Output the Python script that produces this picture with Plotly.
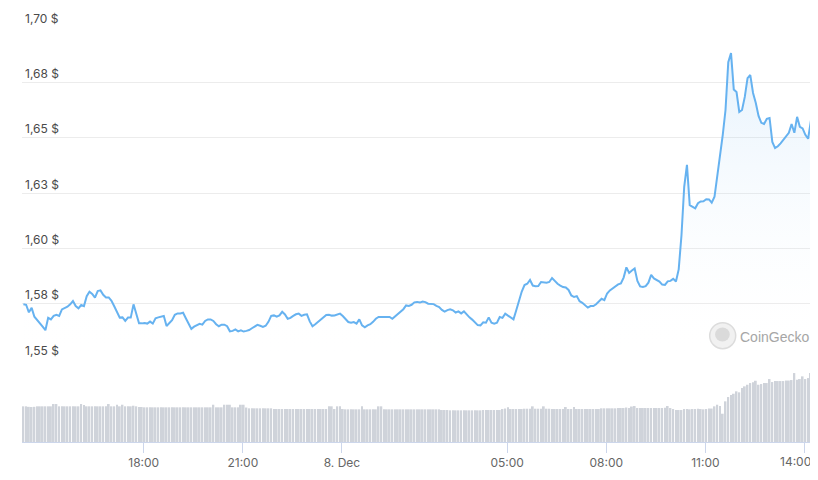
import pandas as pd
import plotly.graph_objects as go

# Prezzo in USD, un punto ogni 5 minuti (7-8 dicembre)
price = [
    1.5747, 1.5745, 1.5711, 1.5731, 1.5691, 1.5677, 1.5661, 1.5646, 1.5630, 1.5686,
    1.5679, 1.5695, 1.5700, 1.5695, 1.5724, 1.5729, 1.5736, 1.5747, 1.5762, 1.5739,
    1.5729, 1.5744, 1.5739, 1.5784, 1.5804, 1.5794, 1.5777, 1.5807, 1.5810, 1.5790,
    1.5778, 1.5778, 1.5763, 1.5738, 1.5715, 1.5687, 1.5688, 1.5672, 1.5687, 1.5687,
    1.5747, 1.5700, 1.5661, 1.5661, 1.5663, 1.5660, 1.5669, 1.5660, 1.5684, 1.5688,
    1.5691, 1.5694, 1.5649, 1.5664, 1.5675, 1.5700, 1.5706, 1.5706, 1.5709, 1.5684,
    1.5661, 1.5636, 1.5646, 1.5652, 1.5659, 1.5655, 1.5672, 1.5679, 1.5679, 1.5672,
    1.5657, 1.5648, 1.5655, 1.5655, 1.5648, 1.5625, 1.5627, 1.5634, 1.5625, 1.5630,
    1.5624, 1.5627, 1.5631, 1.5639, 1.5648, 1.5654, 1.5650, 1.5645, 1.5650, 1.5668,
    1.5695, 1.5697, 1.5691, 1.5697, 1.5713, 1.5701, 1.5682, 1.5686, 1.5695, 1.5702,
    1.5705, 1.5695, 1.5700, 1.5702, 1.5670, 1.5648, 1.5657, 1.5668, 1.5677, 1.5686,
    1.5699, 1.5700, 1.5696, 1.5697, 1.5702, 1.5705, 1.5694, 1.5679, 1.5667, 1.5664,
    1.5667, 1.5660, 1.5679, 1.5652, 1.5643, 1.5652, 1.5657, 1.5668, 1.5682, 1.5690,
    1.5690, 1.5690, 1.5690, 1.5690, 1.5682, 1.5693, 1.5704, 1.5715, 1.5725, 1.5742,
    1.5740, 1.5745, 1.5756, 1.5758, 1.5755, 1.5760, 1.5757, 1.5750, 1.5748, 1.5748,
    1.5740, 1.5735, 1.5722, 1.5714, 1.5721, 1.5725, 1.5720, 1.5710, 1.5715, 1.5706,
    1.5715, 1.5700, 1.5688, 1.5678, 1.5666, 1.5653, 1.5652, 1.5666, 1.5664, 1.5688,
    1.5664, 1.5660, 1.5664, 1.5690, 1.5686, 1.5705, 1.5696, 1.5687, 1.5679, 1.5720,
    1.5767, 1.5805, 1.5834, 1.5840, 1.5857, 1.5832, 1.5829, 1.5830, 1.5848, 1.5845,
    1.5845, 1.5848, 1.5866, 1.5853, 1.5840, 1.5832, 1.5825, 1.5823, 1.5812, 1.5787,
    1.5780, 1.5784, 1.5761, 1.5754, 1.5741, 1.5732, 1.5739, 1.5739, 1.5747, 1.5761,
    1.5772, 1.5766, 1.5796, 1.5810, 1.5819, 1.5832, 1.5837, 1.5841, 1.5868, 1.5914,
    1.5889, 1.5900, 1.5909, 1.5853, 1.5828, 1.5825, 1.5829, 1.5845, 1.5880, 1.5864,
    1.5855, 1.5850, 1.5836, 1.5835, 1.5851, 1.5853, 1.5862, 1.5850, 1.5905, 1.6058,
    1.6278, 1.6377, 1.6195, 1.6189, 1.6181, 1.6204, 1.6212, 1.6213, 1.6222, 1.6221,
    1.6206, 1.6233, 1.6323, 1.6423, 1.6513, 1.6625, 1.6841, 1.6882, 1.6718, 1.6706,
    1.6616, 1.6625, 1.6684, 1.6769, 1.6783, 1.6702, 1.6657, 1.6598, 1.6567, 1.6562,
    1.6585, 1.6589, 1.6481, 1.6453, 1.6461, 1.6474, 1.6492, 1.6506, 1.6522, 1.6562,
    1.6522, 1.6594, 1.6549, 1.6542, 1.6513, 1.6495, 1.6576, 1.6569,
]

# Volume (valori relativi, stessa frequenza del prezzo)
volume = [
    35.7, 35.7, 35.2, 35.0, 35.2, 35.7, 35.7, 35.7, 35.7, 35.7,
    35.7, 38.0, 38.0, 35.7, 35.7, 35.7, 35.7, 35.7, 35.7, 35.7,
    35.7, 38.0, 37.0, 35.7, 35.7, 35.7, 35.7, 35.7, 35.7, 35.7,
    35.7, 38.0, 35.7, 35.7, 37.3, 35.7, 37.3, 35.7, 35.7, 35.7,
    36.3, 35.7, 35.0, 35.0, 34.7, 34.7, 34.7, 34.7, 34.7, 34.7,
    34.7, 34.7, 34.7, 34.7, 34.7, 34.7, 34.7, 34.7, 34.7, 34.7,
    34.7, 34.7, 34.7, 34.7, 34.7, 34.7, 34.7, 34.7, 34.7, 37.3,
    34.7, 34.7, 34.7, 37.3, 37.3, 37.3, 34.7, 34.7, 34.7, 37.3,
    37.3, 34.5, 33.7, 33.7, 33.7, 33.7, 33.7, 33.7, 33.7, 33.7,
    33.7, 33.0, 33.0, 33.0, 33.0, 33.0, 33.0, 33.0, 33.0, 33.0,
    33.0, 33.0, 33.0, 33.0, 33.0, 33.0, 33.0, 33.0, 33.0, 33.0,
    33.0, 35.7, 35.7, 33.0, 35.7, 35.7, 33.0, 32.7, 32.7, 32.7,
    32.7, 32.7, 32.7, 35.7, 32.7, 32.7, 32.7, 32.7, 32.7, 35.7,
    35.7, 32.7, 32.7, 32.7, 32.7, 32.7, 32.7, 32.7, 32.7, 32.7,
    32.7, 32.7, 32.7, 32.7, 32.7, 32.7, 32.7, 32.7, 32.7, 32.7,
    32.7, 32.7, 32.0, 32.0, 32.0, 31.7, 31.7, 31.7, 31.7, 31.7,
    31.7, 31.7, 31.7, 31.7, 31.7, 31.7, 31.7, 32.0, 32.0, 32.0,
    32.0, 32.0, 32.0, 32.0, 33.0, 33.5, 34.7, 33.0, 33.0, 33.0,
    33.0, 33.0, 33.3, 33.3, 33.3, 35.7, 33.3, 33.3, 33.3, 35.7,
    33.3, 33.3, 33.0, 33.0, 33.0, 33.0, 33.0, 35.0, 33.0, 33.0,
    35.0, 33.0, 33.0, 33.0, 33.0, 33.0, 33.0, 33.0, 33.0, 33.0,
    33.7, 33.7, 33.7, 33.7, 33.7, 33.7, 34.0, 34.0, 34.0, 34.5,
    34.0, 35.5, 36.0, 34.0, 34.0, 34.0, 34.0, 34.0, 34.0, 34.0,
    34.0, 34.0, 34.0, 34.3, 36.0, 34.0, 33.0, 32.0, 32.0, 32.0,
    33.0, 33.0, 32.7, 33.0, 33.0, 33.3, 33.0, 32.7, 33.0, 33.5,
    33.5, 35.7, 37.3, 36.0, 28.3, 40.7, 45.0, 47.0, 48.3, 50.7,
    49.7, 54.0, 55.7, 57.3, 59.0, 59.7, 61.3, 57.3, 58.0, 59.0,
    59.0, 63.0, 60.0, 61.0, 61.0, 61.0, 61.0, 61.5, 61.5, 62.0,
    69.0, 62.3, 63.0, 65.7, 63.0, 64.0, 69.0, 66.0,
]

tick_times = ["2022-12-07 18:00", "2022-12-07 21:00", "2022-12-08 00:00",
              "2022-12-08 05:00", "2022-12-08 08:00", "2022-12-08 11:00",
              "2022-12-08 14:00"]
tick_labels = ["18:00", "21:00", "8. Dec", "05:00", "08:00", "11:00", "14:00"]

price_ticks = [1.55, 1.575, 1.60, 1.625, 1.65, 1.675, 1.70]
price_labels = ["1,55 $", "1,58 $", "1,60 $", "1,63 $", "1,65 $", "1,68 $", "1,70 $"]

times = pd.date_range("2022-12-07 14:21:30", periods=len(price), freq="5min")

fig = go.Figure()

fig.add_trace(go.Bar(
    x=times, y=volume, yaxis="y2",
    marker=dict(color="#cfd3da", line=dict(width=0)),
    width=200000,
    hoverinfo="skip",
))

fig.add_trace(go.Scatter(
    x=times, y=price, mode="lines",
    line=dict(color="#66b2f0", width=2),
    fill="tozeroy",
    fillgradient=dict(
        type="vertical",
        colorscale=[[0, "rgba(255,255,255,0)"], [1, "rgba(102,178,240,0.17)"]],
        start=1.55, stop=1.69,
    ),
))

# l'ultima etichetta e' spostata a sinistra per restare dentro al grafico
last_label = tick_labels[-1]
axis_labels = tick_labels[:-1] + [""]
fig.add_annotation(
    x=0.9975, y=-0.048, xref="paper", yref="paper",
    text=last_label, showarrow=False, xanchor="right", yanchor="middle",
    font=dict(family="Inter, Roboto, sans-serif", size=12, color="#666666"),
)

# logo CoinGecko (filigrana)
fig.add_annotation(
    x=0.995, y=0.253, xref="paper", yref="paper",
    text="CoinGecko", showarrow=False, xanchor="right", yanchor="middle",
    font=dict(family="Liberation Sans, Arial, sans-serif", size=14, color="#a6a6a6"),
)
fig.add_shape(type="circle", xref="paper", yref="paper",
              x0=0.8672, x1=0.9000, y0=0.2248, y1=0.2875,
              fillcolor="#f1f1f1", line=dict(color="#dcdcdc", width=1.5))
fig.add_shape(type="circle", xref="paper", yref="paper",
              x0=0.8740, x1=0.8925, y0=0.2420, y1=0.2760,
              fillcolor="#dadada", line=dict(width=0))

# la pagina ha 8px di margine: dimensioni e margini compensati
fig.update_layout(
    width=810, height=464,
    margin=dict(l=14, r=3, t=19, b=30),
    paper_bgcolor="white", plot_bgcolor="white",
    showlegend=False,
    font=dict(family="Inter, Roboto, sans-serif"),
    xaxis=dict(
        type="date", anchor="y2",
        range=["2022-12-07 14:19:00", "2022-12-08 14:19:00"],
        tickvals=tick_times, ticktext=axis_labels,
        showgrid=False, zeroline=False,
        showline=True, linecolor="#ccd6eb", linewidth=1,
        ticks="outside", ticklen=10, tickcolor="#ccd6eb",
        tickfont=dict(size=12, color="#666666"),
    ),
    yaxis=dict(
        domain=[0.2, 1], range=[1.55, 1.70],
        tickvals=price_ticks, ticktext=price_labels,
        ticklabelposition="inside top", ticklabeloverflow="allow",
        showgrid=True, gridcolor="#ececec", gridwidth=1,
        zeroline=False, showline=False, ticks="",
        tickfont=dict(size=12, color="#4a4a4a"),
    ),
    yaxis2=dict(domain=[0, 0.1926], range=[0, 80], visible=False),
)

fig.write_html("out.html")
